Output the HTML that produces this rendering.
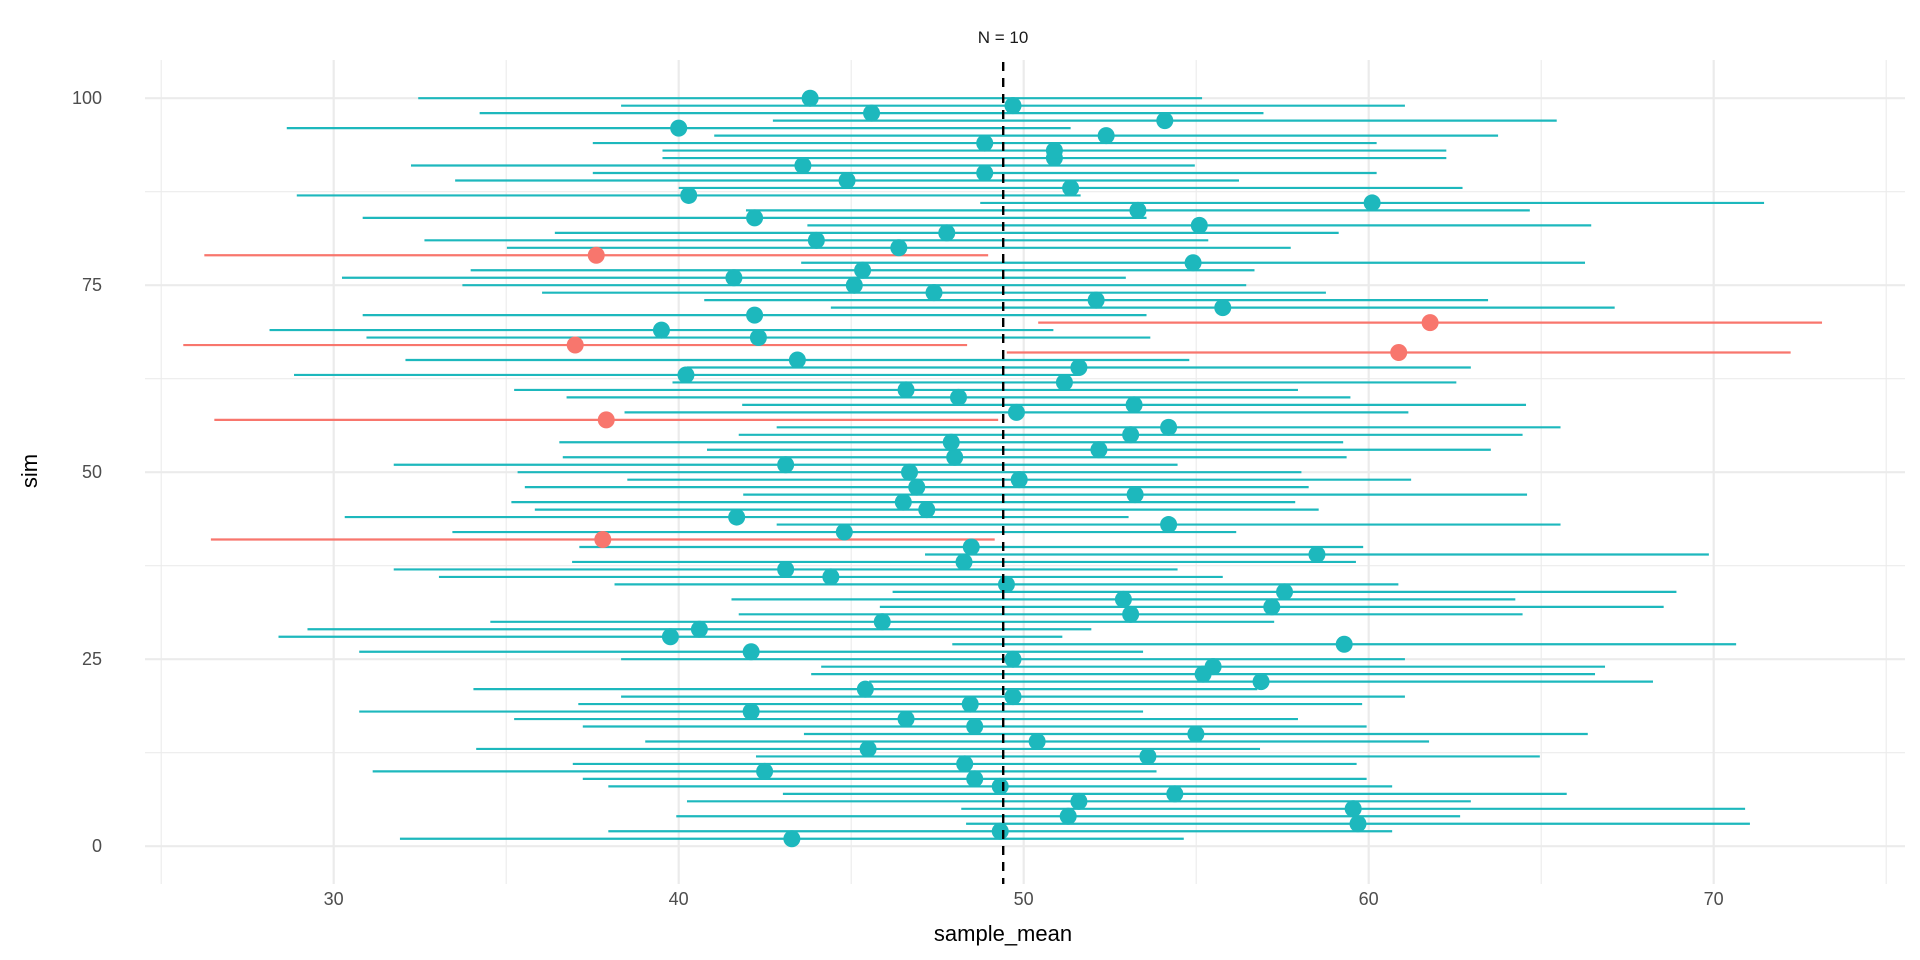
<!DOCTYPE html>
<html><head><meta charset="utf-8"><style>
html,body{margin:0;padding:0;background:#fff;}
svg{display:block;font-family:"Liberation Sans",sans-serif;}
</style></head><body>
<svg id="s" width="1920" height="960" viewBox="0 0 1920 960" xmlns="http://www.w3.org/2000/svg">
<rect width="1920" height="960" fill="#fff"/>
<g id="grid"></g>
<g id="data"></g>
<line x1="1003.2" y1="62" x2="1003.2" y2="884" stroke="#000" stroke-width="2.4" stroke-dasharray="9,7"/>
<g id="lab" font-size="18" fill="#4d4d4d"></g>
<text x="1003" y="43" font-size="17" fill="#1a1a1a" text-anchor="middle">N = 10</text>
<text x="1003" y="941" font-size="22" fill="#000" text-anchor="middle">sample_mean</text>
<text transform="translate(37,471) rotate(-90)" font-size="22" fill="#000" text-anchor="middle">sim</text>
</svg>
<script>
var m={100:43.81,99:49.69,98:45.59,97:54.09,96:40.0,95:52.39,94:48.87,93:50.89,92:50.89,91:43.6,90:48.87,89:44.88,
88:51.36,87:40.29,86:60.1,85:53.31,84:42.2,83:55.09,82:47.77,81:43.99,80:46.38,79:37.61,78:54.91,77:45.33,76:41.6,75:45.09,
74:47.4,73:52.1,72:55.77,71:42.2,70:61.78,69:39.5,68:42.31,67:37.0,66:60.87,65:43.44,64:51.6,63:40.21,62:51.18,61:46.59,
60:48.11,59:53.2,58:49.79,57:37.9,56:54.2,55:53.1,54:47.9,53:52.18,52:48.0,51:43.1,50:46.69,49:49.87,48:46.9,47:53.23,
46:46.51,45:47.19,44:41.68,43:54.2,42:44.8,41:37.8,40:48.48,39:58.5,38:48.27,37:43.1,36:44.41,35:49.5,34:57.56,33:52.89,
32:57.19,31:53.1,30:45.9,29:40.6,28:39.76,27:59.29,26:42.1,25:49.69,24:55.49,23:55.2,22:56.88,21:45.41,20:49.69,19:48.45,
18:42.1,17:46.59,16:48.58,15:54.99,14:50.39,13:45.49,12:53.6,11:48.29,10:42.49,9:48.58,8:49.32,7:54.38,6:51.6,5:59.55,
4:51.29,3:59.69,2:49.32,1:43.28};
function X(v){return 333.7+34.5*(v-30);}
function Y(s){return 846.2-7.48*s;}
var NS="http://www.w3.org/2000/svg";
function el(p,t,a,txt){var e=document.createElementNS(NS,t);for(var k in a)e.setAttribute(k,a[k]);if(txt!=null)e.textContent=txt;p.appendChild(e);return e;}
var g=document.getElementById("grid"),d=document.getElementById("data"),l=document.getElementById("lab");
for(var v=25;v<=75;v+=5){var maj=(v%10==0);el(g,"line",{x1:X(v),x2:X(v),y1:60,y2:884,stroke:"#ebebeb","stroke-width":maj?2.2:1.1});}
for(var s=0;s<=100;s+=12.5){var maj=(s%25==0);el(g,"line",{x1:145,x2:1905,y1:Y(s),y2:Y(s),stroke:"#ebebeb","stroke-width":maj?2.2:1.1});}
[30,40,50,60,70].forEach(function(v){el(l,"text",{x:X(v),y:905,"text-anchor":"middle"},String(v));});
[0,25,50,75,100].forEach(function(s){el(l,"text",{x:102,y:Y(s)+6,"text-anchor":"end"},String(s));});
var mu=49.37,h=11.36;
for(var s=1;s<=100;s++){var v=m[s];var red=(v-h>mu||v+h<mu);var c=red?"#F8766D":"#1DB8BD";
el(d,"line",{x1:X(v-h),x2:X(v+h),y1:Y(s),y2:Y(s),stroke:c,"stroke-width":2.2});}
for(var s=1;s<=100;s++){var v=m[s];var red=(v-h>mu||v+h<mu);var c=red?"#F8766D":"#1DB8BD";
el(d,"circle",{cx:X(v),cy:Y(s),r:8.5,fill:c});}
</script>
</body></html>
